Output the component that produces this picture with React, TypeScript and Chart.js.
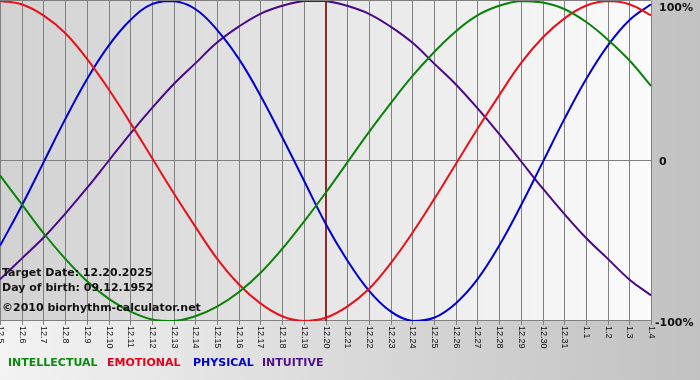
import React, { useEffect, useRef } from "react";
import { Chart, registerables } from "chart.js";

Chart.register(...registerables);

const dateLabels = [
  "12.5", "12.6", "12.7", "12.8", "12.9", "12.10", "12.11", "12.12", "12.13", "12.14",
  "12.15", "12.16", "12.17", "12.18", "12.19", "12.20", "12.21", "12.22", "12.23", "12.24",
  "12.25", "12.26", "12.27", "12.28", "12.29", "12.30", "12.31", "1.1", "1.2", "1.3", "1.4",
];

const intellectual = [
  -9, -27, -45, -61, -75, -86, -94, -99, -100, -97, -91, -82, -70, -55, -38, -20,
  -1, 18, 36, 53, 68, 81, 91, 97, 100, 99, 95, 87, 76, 63, 47,
];
const emotional = [
  100, 98, 91, 80, 64, 45, 24, 2, -20, -41, -61, -77, -89, -97, -100, -98,
  -91, -80, -64, -45, -24, -2, 20, 41, 61, 77, 89, 97, 100, 98, 91,
];
const physical = [
  -53, -28, -1, 26, 51, 72, 88, 98, 100, 95, 82, 64, 41, 15, -12, -39,
  -62, -81, -94, -100, -98, -89, -74, -53, -28, -1, 26, 51, 72, 88, 98,
];
const intuitive = [
  -74, -61, -48, -33, -17, 0, 17, 33, 48, 61, 74, 84, 92, 97, 100, 100,
  97, 92, 84, 74, 61, 48, 33, 17, 0, -17, -33, -48, -61, -74, -84,
];

const yTicks = [100, 0, -100];
const yTickLabels = ["100%", "0", "-100%"];
const targetDate = "12.20";
const infoLines = [
  "Target Date: 12.20.2025",
  "Day of birth: 09.12.1952",
  "\u00A92010 biorhythm-calculator.net",
];
const seriesNames = ["INTELLECTUAL", "EMOTIONAL", "PHYSICAL", "INTUITIVE"];
const seriesColors = ["#0a820a", "#e8101a", "#0000d8", "#4a0a88"];
const legendColors = ["#0c8a0c", "#e8001c", "#0000d0", "#50108c"];

const decorPlugin = {
  id: "decor",
  beforeDraw(chart: any) {
    const { ctx, chartArea: a, width, height } = chart;
    const xs = chart.scales.x;
    const ys = chart.scales.y;
    ctx.save();
    const g = ctx.createLinearGradient(0, 0, width, 0);
    g.addColorStop(0, "#f3f3f3");
    g.addColorStop(0.85, "#c8c8c8");
    g.addColorStop(1, "#c2c2c2");
    ctx.fillStyle = g;
    ctx.fillRect(0, 0, width, height);

    const pg = ctx.createLinearGradient(a.left, 0, a.right, 0);
    pg.addColorStop(0, "#d2d2d2");
    pg.addColorStop(1, "#fbfbfb");
    ctx.fillStyle = pg;
    ctx.fillRect(a.left, a.top, a.right - a.left, a.bottom - a.top);

    ctx.strokeStyle = "#808080";
    ctx.lineWidth = 1;
    dateLabels.forEach((_, i) => {
      const x = Math.round(xs.getPixelForValue(i)) + 0.5;
      ctx.beginPath();
      ctx.moveTo(x, a.top);
      ctx.lineTo(x, a.bottom + 4);
      ctx.stroke();
    });
    yTicks.forEach((v) => {
      const y = Math.round(ys.getPixelForValue(v)) - 0.5;
      ctx.beginPath();
      ctx.moveTo(a.left, y);
      ctx.lineTo(a.right, y);
      ctx.stroke();
    });

    // target date line
    const ti = dateLabels.indexOf(targetDate);
    const tx = Math.round(xs.getPixelForValue(ti));
    ctx.strokeStyle = "#8e2a2a";
    ctx.lineWidth = 2;
    ctx.beginPath();
    ctx.moveTo(tx, a.top);
    ctx.lineTo(tx, a.bottom);
    ctx.stroke();

    // x tick labels, rotated clockwise
    ctx.fillStyle = "#111";
    ctx.font = "9px 'Liberation Sans', Arial, sans-serif";
    ctx.textAlign = "left";
    ctx.textBaseline = "middle";
    dateLabels.forEach((lab, i) => {
      const x = xs.getPixelForValue(i);
      ctx.save();
      ctx.translate(x + 0.5, a.bottom + 5);
      ctx.rotate(Math.PI / 2);
      ctx.fillText(lab, 0, 0);
      ctx.restore();
    });

    // right axis labels
    ctx.font = "bold 11px 'DejaVu Sans', Verdana, sans-serif";
    ctx.textBaseline = "alphabetic";
    ctx.fillStyle = "#111";
    const rx = [659, 659, 655];
    const rb = [11, 165, 326];
    yTickLabels.forEach((t, k) => ctx.fillText(t, rx[k], rb[k]));

    // legend
    const lx = [8, 107, 193, 262];
    seriesNames.forEach((n, k) => {
      ctx.fillStyle = legendColors[k];
      ctx.fillText(n, lx[k], 366);
    });
    ctx.restore();
  },
  afterDatasetsDraw(chart: any) {
    const { ctx } = chart;
    ctx.save();
    ctx.font = "bold 11px 'DejaVu Sans', Verdana, sans-serif";
    ctx.fillStyle = "#111";
    ctx.textAlign = "left";
    ctx.textBaseline = "alphabetic";
    const base = [276, 291, 311];
    infoLines.forEach((t, k) => ctx.fillText(t, 2, base[k]));
    ctx.restore();
  },
};

export default function App() {
  const ref = useRef<HTMLCanvasElement>(null);
  useEffect(() => {
    document.body.style.margin = "0";
    const series = [intellectual, emotional, physical, intuitive];
    const chart = new Chart(ref.current as HTMLCanvasElement, {
      type: "line",
      data: {
        labels: dateLabels,
        datasets: series.map((d, k) => ({
          label: seriesNames[k],
          data: d,
          borderColor: seriesColors[k],
          borderWidth: 2,
          pointRadius: 0,
          tension: 0.4,
          fill: false,
        })),
      },
      options: {
        responsive: false,
        animation: false,
        devicePixelRatio: 1,
        layout: { padding: { left: 0, top: 1, right: 49, bottom: 59 } },
        scales: {
          x: { type: "category", display: false, offset: false },
          y: { display: false, min: -100, max: 100 },
        },
        plugins: {
          legend: { display: false },
          tooltip: { enabled: false },
        },
      },
      plugins: [decorPlugin],
    } as any);
    return () => chart.destroy();
  }, []);
  return (
    <div style={{ position: "absolute", left: 0, top: 0, width: 700, height: 380 }}>
      <canvas ref={ref} width={700} height={380} style={{ display: "block", width: 700, height: 380 }} />
    </div>
  );
}
